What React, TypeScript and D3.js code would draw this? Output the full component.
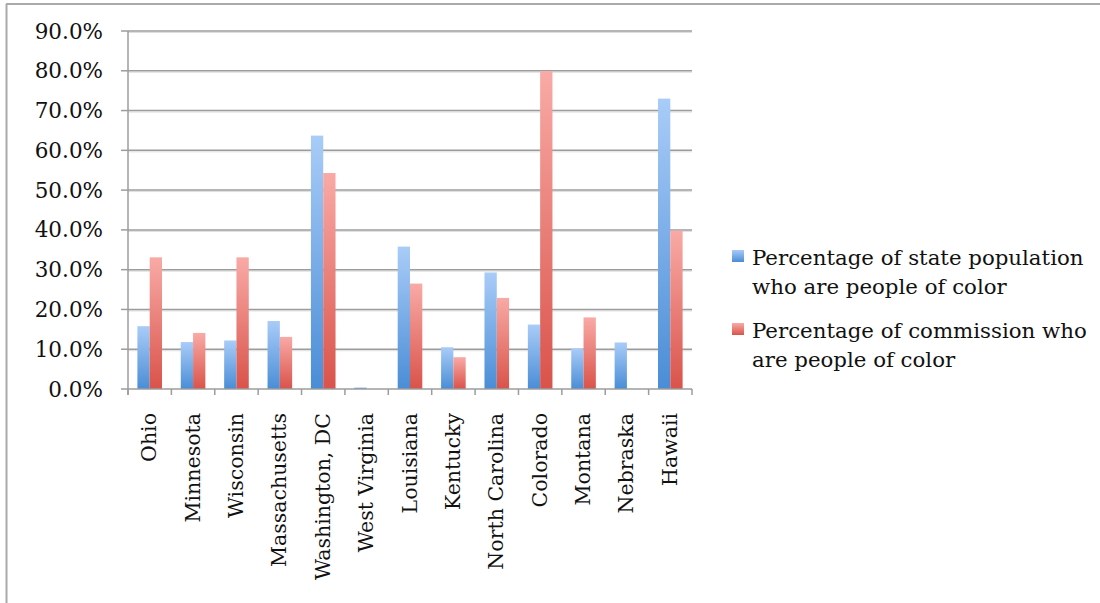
import React from "react";
import * as d3 from "d3";

const categories = [
  "Ohio", "Minnesota", "Wisconsin", "Massachusetts", "Washington, DC", "West Virginia",
  "Louisiana", "Kentucky", "North Carolina", "Colorado", "Montana", "Nebraska", "Hawaii",
];
const populationPct = [15.8, 11.8, 12.2, 17.1, 63.7, 0.4, 35.8, 10.5, 29.3, 16.2, 10.2, 11.7, 73.0];
const commissionPct = [33.1, 14.1, 33.1, 13.1, 54.3, 0, 26.5, 8.0, 22.9, 79.9, 18.0, 0, 39.8];
const yTicks = [0, 10, 20, 30, 40, 50, 60, 70, 80, 90];
const seriesKeys = ["pop", "com"];
const legendLabels = [
  ["Percentage of state population", "who are people of color"],
  ["Percentage of commission who", "are people of color"],
];

const W = 1100;
const H = 603;
const left = 128, right = 692, top = 31, bottom = 389;
const FONT = "'DejaVu Serif', serif";

export default function App() {
  const y = d3.scaleLinear().domain([0, 90]).range([bottom, top]);
  const x = d3.scaleBand<string>().domain(categories).range([left, right]).padding(0);
  const bw = x.bandwidth();
  const group = bw * 0.567;
  const x1 = d3.scaleBand<string>().domain(seriesKeys).range([(bw - group) / 2, (bw + group) / 2]).padding(0);
  const series = [populationPct, commissionPct];
  const fills = ["url(#gBlue)", "url(#gRed)"];
  const boundaries = categories.map((c) => x(c) as number).concat([right]);

  return (
    <svg width={W} height={H} style={{ position: "absolute", left: 0, top: 0, background: "#fff" }}>
      <defs>
        <linearGradient id="gBlue" x1="0" y1="0" x2="0" y2="1">
          <stop offset="0" stopColor="#a9ccf8" />
          <stop offset="1" stopColor="#4a8dd6" />
        </linearGradient>
        <linearGradient id="gRed" x1="0" y1="0" x2="0" y2="1">
          <stop offset="0" stopColor="#f9aaa6" />
          <stop offset="1" stopColor="#d9534a" />
        </linearGradient>
      </defs>
      <rect x={0} y={0} width={W} height={H} fill="#fff" />
      {/* frame */}
      <line x1={6} x2={W} y1={4} y2={4} stroke="#aaaaaa" strokeWidth={2} />
      <line x1={6.5} x2={6.5} y1={4} y2={H} stroke="#aaaaaa" strokeWidth={2} />

      {/* gridlines */}
      {yTicks.map((t) => (
        <g key={t}>
          {t > 0 && (
            <>
              <line x1={left} x2={right} y1={y(t) + 1.5} y2={y(t) + 1.5} stroke="#dddddd" strokeWidth={1} />
              <line x1={left} x2={right} y1={y(t)} y2={y(t)} stroke="#9c9c9c" strokeWidth={1.5} />
            </>
          )}
          <line x1={left - 7} x2={left} y1={y(t)} y2={y(t)} stroke="#9c9c9c" strokeWidth={1.5} />
          <text x={103} y={y(t) + 7.5} textAnchor="end" fontFamily={FONT} fontSize={21.5} fill="#111">
            {t.toFixed(1)}%
          </text>
        </g>
      ))}

      {/* bars */}
      {categories.map((c, i) => (
        <g key={c} transform={`translate(${x(c)},0)`}>
          {seriesKeys.map((k, s) => {
            const v = series[s][i];
            if (v <= 0) return null;
            return (
              <rect
                key={k}
                x={x1(k)}
                y={y(v)}
                width={x1.bandwidth()}
                height={y(0) - y(v)}
                fill={fills[s]}
              />
            );
          })}
        </g>
      ))}

      {/* axes */}
      <line x1={left} x2={left} y1={top} y2={bottom + 6} stroke="#9c9c9c" strokeWidth={1.5} />
      <line x1={left} x2={right} y1={bottom} y2={bottom} stroke="#9c9c9c" strokeWidth={1.5} />
      {boundaries.map((b, i) => (
        <line key={i} x1={b} x2={b} y1={bottom} y2={bottom + 6} stroke="#9c9c9c" strokeWidth={1.5} />
      ))}

      {/* category labels */}
      {categories.map((c) => {
        const cx = (x(c) as number) + bw / 2 + 6.5;
        return (
          <text
            key={c}
            transform={`translate(${cx},413) rotate(-90)`}
            textAnchor="end"
            fontFamily={FONT}
            fontSize={20.5}
            fill="#111"
          >
            {c}
          </text>
        );
      })}

      {/* legend */}
      {legendLabels.map((lines, i) => {
        const baseY = 265 + i * 73;
        return (
          <g key={i}>
            <rect x={732} y={baseY - 15} width={12} height={12} fill={fills[i]} />
            {lines.map((ln, j) => (
              <text key={j} x={752} y={baseY + j * 29} fontFamily={FONT} fontSize={21.3} fill="#111">
                {ln}
              </text>
            ))}
          </g>
        );
      })}
    </svg>
  );
}
